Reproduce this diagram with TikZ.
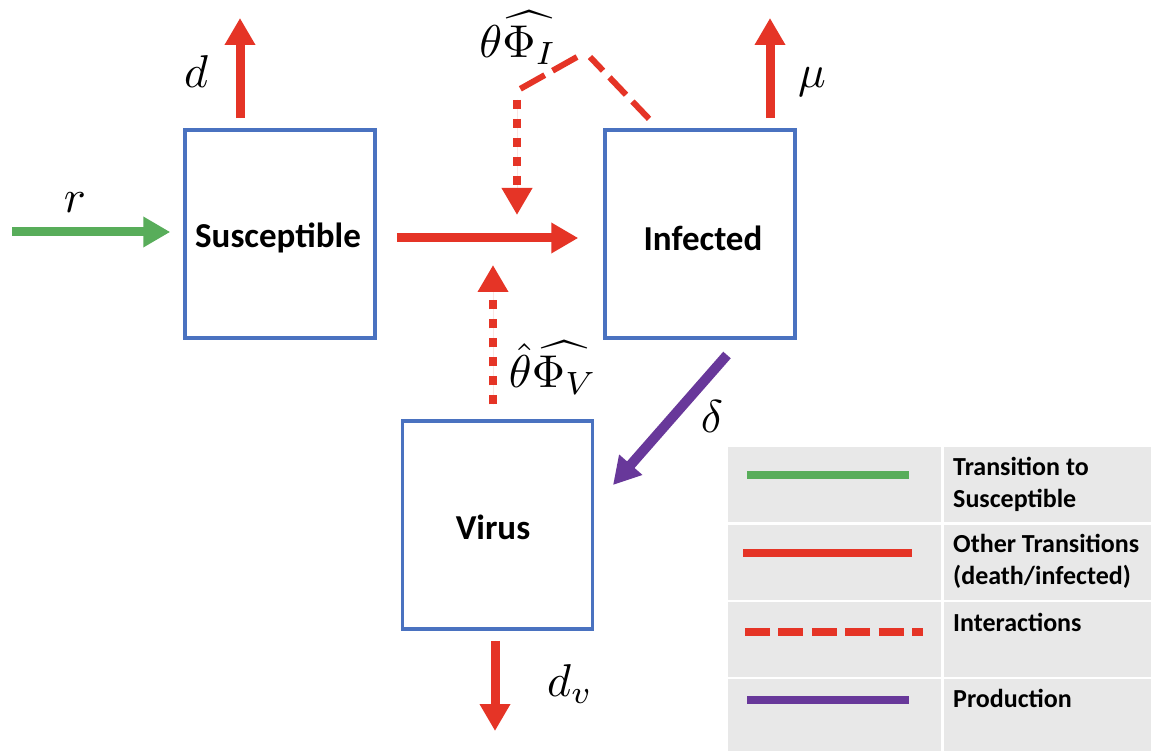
\documentclass[tikz,border=0pt]{standalone}
\usepackage{amsmath}
\usepackage{graphicx}
\usepackage{fontspec}
\setmainfont{Carlito}
\usetikzlibrary{arrows.meta}
\definecolor{boxblue}{RGB}{74,114,192}
\definecolor{ared}{RGB}{229,52,38}
\definecolor{agreen}{RGB}{88,173,90}
\definecolor{apurple}{RGB}{104,56,154}
\definecolor{leggray}{RGB}{232,232,232}
\newcommand{\mylbl}[1]{\scalebox{4.6}{$#1$}}
\begin{document}
\begin{tikzpicture}[x=1pt,y=-1pt,
  cbox/.style={draw=boxblue,line width=3.5pt,minimum width=190pt,minimum height=208pt,inner sep=0pt},
  boxtext/.style={font=\fontsize{35}{40}\selectfont\bfseries,inner sep=0pt},
  tipa/.style={-{Triangle[length=27pt,width=29pt]}},
  redarr/.style={draw=ared,fill=ared,line width=9pt,tipa},
  dotarr/.style={draw=ared,fill=ared,line width=8.5pt,dash pattern=on 9pt off 10pt,tipa},
  dashln/.style={draw=ared,line width=6pt},
  mlabel/.style={inner sep=0pt},
  legtext/.style={font=\fontsize{26}{32}\selectfont\bfseries,anchor=west,align=left,inner sep=0pt},
  legline/.style={line width=8pt}
]
\useasboundingbox (0,0) rectangle (1151,751);
\fill[white] (0,0) rectangle (1151,751);

% boxes
\node[cbox] (S) at (280,234) {};
\node[cbox] (I) at (700,234) {};
\node[cbox] (V) at (497.5,525) {};
\node[boxtext] (St) at (278,238) {Susceptible};
\node[boxtext] (It) at (703,238) {Infected};
\node[boxtext] (Vt) at (493,527) {Virus};

% free-end coordinates
\coordinate (rstart) at (12,232);
\coordinate (dtip) at (240,18);
\coordinate (mutip) at (770,18);
\coordinate (dvtip) at (495,731);
\coordinate (dstart) at (727,355);
\coordinate (dend) at (613,485);
\coordinate (p1) at (590,57);
\coordinate (p2) at (577,57);
\coordinate (p3) at (520,89);
\coordinate (p4) at (517,100);
\coordinate (mid1) at (517,215);
\coordinate (mid2) at (493,265);

% connectors
\draw[draw=agreen,fill=agreen,line width=9pt,tipa] (rstart) -- ([yshift=2pt]S.west) [shorten >=13pt];
\path[redarr,shorten <=10pt] ([xshift=-40pt]S.north) -- (dtip);
\path[redarr,shorten <=10pt] ([xshift=70pt]I.north) -- (mutip);
\path[redarr,shorten <=20pt,shorten >=25pt] ([yshift=-4pt]S.east) -- ([yshift=-4pt]I.west);
\path[redarr,shorten <=10pt] ([xshift=-2.5pt]V.south) -- (dvtip);
\draw[draw=apurple,fill=apurple,line width=10pt,tipa] (dstart) -- (dend);

\draw[dashln,dash pattern=on 24pt off 9.3pt,shorten <=13pt] ([xshift=-42pt]I.north) -- (p1);
\draw[dashln,dash pattern=on 28pt off 9pt] (p2) -- (p3);
\path[dotarr] (p4) -- (mid1);
\path[dotarr,shorten <=15pt] ([xshift=-4.5pt]V.north) -- (mid2);

% labels
\node[mlabel] (lr) at (75,203) {\mylbl{r}};
\node[mlabel] (ld) at (196,72) {\mylbl{d}};
\node[mlabel] (lmu) at (812,82) {\mylbl{\mu}};
\node[mlabel] (ldelta) at (712,417) {\mylbl{\delta}};
\node[mlabel] (ldv) at (570,684) {\mylbl{d_v}};
\node[mlabel] (lphiI) at (518,38) {\mylbl{\theta\widehat{\Phi_I}}};
\node[mlabel] (lphiV) at (553,368) {\mylbl{\hat{\theta}\widehat{\Phi_V}}};

% legend
\fill[leggray] (728,447) rectangle (1151,752);
\draw[white,line width=3pt] (728,523.5) -- (1151,523.5);
\draw[white,line width=2pt] (728,601) -- (1151,601);
\draw[white,line width=2pt] (728,677.5) -- (1151,677.5);
\draw[white,line width=2.5pt] (942.5,447) -- (942.5,752);

\coordinate (g1) at (747,475); \coordinate (g2) at (909,475);
\coordinate (r1) at (743,553); \coordinate (r2) at (912,553);
\coordinate (k1) at (745,632); \coordinate (k2) at (923,632);
\coordinate (u1) at (747,700); \coordinate (u2) at (909,700);
\draw[legline,agreen] (g1) -- (g2);
\draw[legline,ared,line width=8.5pt] (r1) -- (r2);
\draw[legline,ared,dash pattern=on 25pt off 8.4pt] (k1) -- (k2);
\draw[legline,apurple] (u1) -- (u2);

\node[legtext] (t1) at (953,484) {Transition to\\Susceptible};
\node[legtext] (t2) at (953,561) {Other Transitions\\(death/infected)};
\node[legtext] (t3) at (953,622) {Interactions};
\node[legtext] (t4) at (953,698) {Production};
\end{tikzpicture}
\end{document}
